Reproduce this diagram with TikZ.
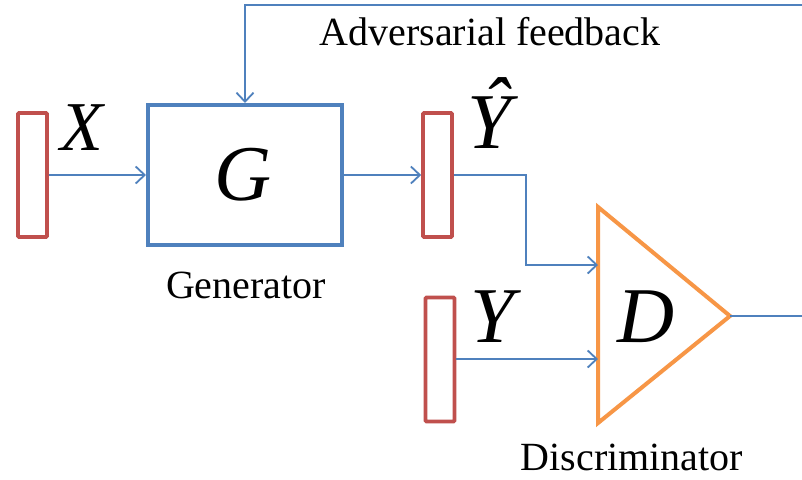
\documentclass[tikz,border=0pt]{standalone}
\usepackage{fontspec}
\setmainfont{Liberation Serif}
\usetikzlibrary{arrows.meta}
\definecolor{lineblue}{HTML}{4F81BD}
\definecolor{barred}{HTML}{C0504D}
\definecolor{triorange}{HTML}{F79646}
\tikzset{
  vecbar/.style={draw=barred, line width=3.6pt, rounded corners=1pt,
    minimum width=29pt, minimum height=124pt, inner sep=0pt},
  genbox/.style={draw=lineblue, line width=4pt, minimum width=194pt,
    minimum height=140pt, inner sep=0pt},
  flow/.style={draw=lineblue, line width=1.8pt,
    -{Straight Barb[length=9pt,width=17pt,line width=1.8pt]}},
  plainflow/.style={draw=lineblue, line width=1.8pt},
  symb/.style={font=\itshape\fontsize{70}{70}\selectfont, inner sep=0pt, anchor=base},
  bigsymb/.style={font=\itshape\fontsize{79}{79}\selectfont, inner sep=0pt, anchor=base},
  caption/.style={font=\fontsize{40}{40}\selectfont, inner sep=0pt, anchor=base},
}
\begin{document}
\begin{tikzpicture}[x=1pt, y=-1pt]
  \fill[white] (0,0) rectangle (802,479);
  \clip (0,0) rectangle (802,479);

  % input, generator and output vectors
  \node[vecbar] (xbar) at (32.5,175) {};
  \node[genbox] (gen) at (245,175) {};
  \node[vecbar] (yhatbar) at (437.5,175) {};
  \node[vecbar] (ybar) at (440,359.5) {};

  % discriminator triangle
  \coordinate (dtop) at (598,207);
  \coordinate (dbot) at (598,423);
  \coordinate (dapex) at (730,316);
  \coordinate (din1) at (598,265);
  \coordinate (din2) at (598,359);
  \draw[triorange, line width=4pt, line join=miter] (dtop) -- (dapex) -- (dbot) -- cycle;

  % symbols
  \node[symb] (xlab) at (82,150) {X};
  \node[bigsymb] (glab) at (243,200) {G};
  \node[bigsymb] (yhatlab) at (489,148)
    {\rlap{\hspace{0.2em}\raisebox{0.2em}{\char"02C6}}Y};
  \node[bigsymb] (ylab) at (492,342) {Y};
  \node[bigsymb] (dlab) at (646,342) {D};

  % captions
  \node[caption] (fbtext) at (490,45) {Adversarial feedback};
  \node[caption] (gentext) at (246,298) {Generator};
  \node[caption] (disctext) at (632,470) {Discriminator};

  % connectors
  \draw[flow] (xbar.east) -- (gen.west);
  \draw[flow] (gen.east) -- (yhatbar.west);
  \draw[flow] (yhatbar.east) -- (526,175) |- (din1);
  \draw[flow] (ybar.east |- din2) -- (din2);

  % feedback loop from the discriminator output back to the generator
  \coordinate (loopcorner) at (812,316);
  \draw[plainflow] (dapex) -- (loopcorner);
  \draw[flow] (loopcorner) -- (812,5) -| (gen.north);
\end{tikzpicture}
\end{document}
